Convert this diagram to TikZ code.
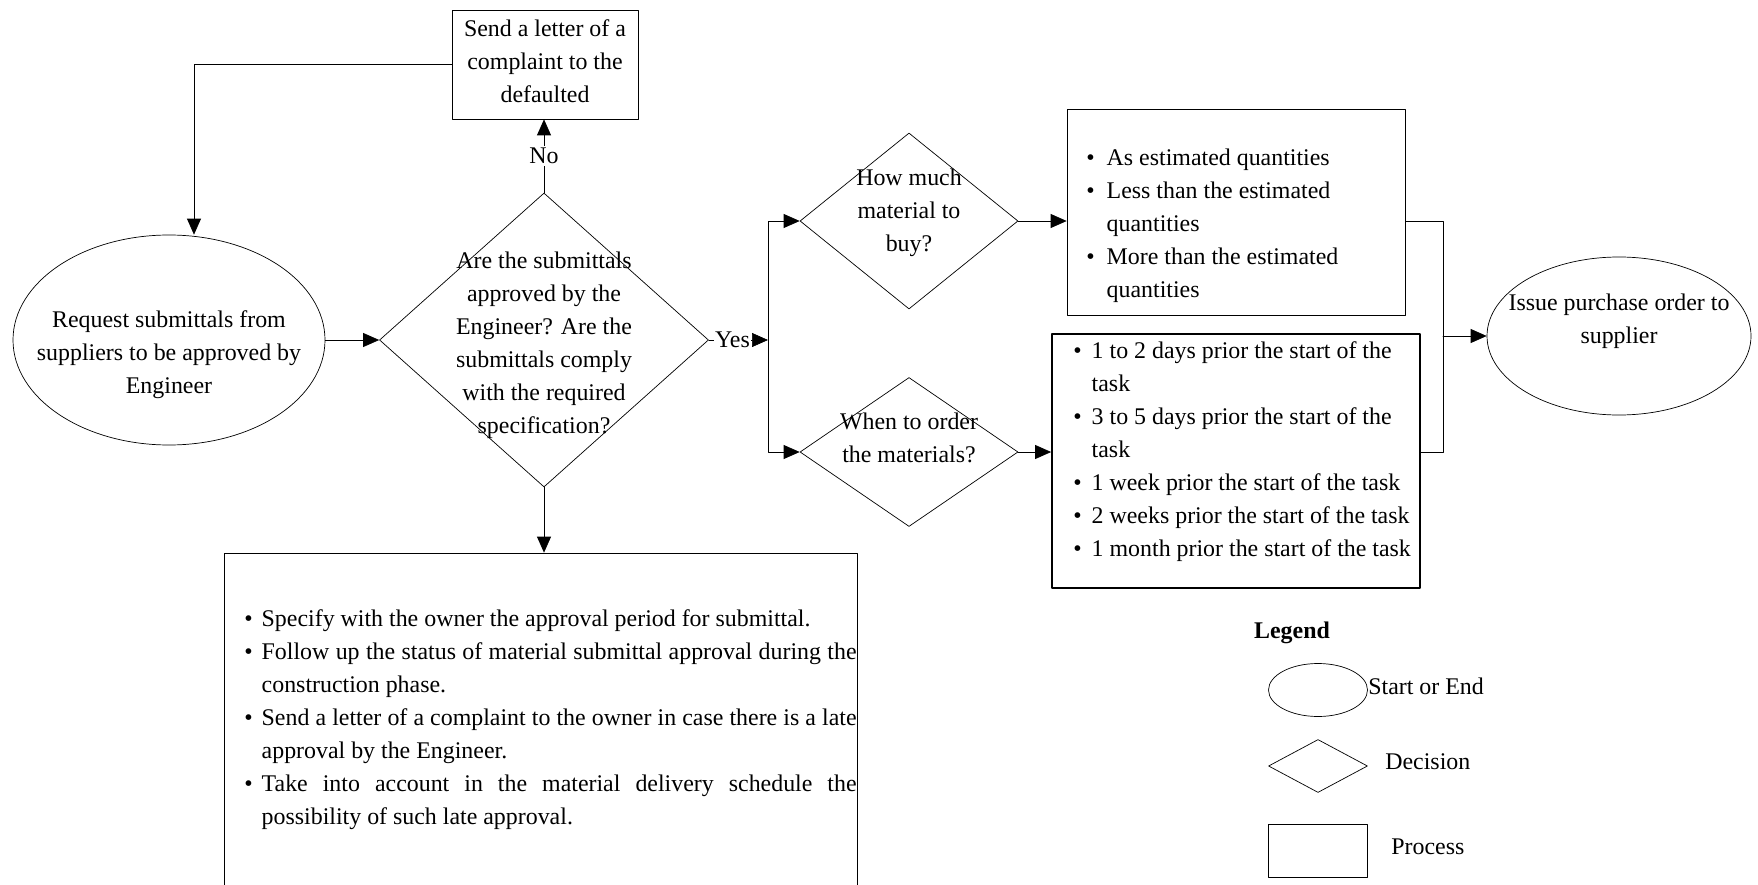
\documentclass[tikz,border=0pt]{standalone}
\usepackage{fontspec}
\setmainfont{Liberation Serif}
\usetikzlibrary{shapes.geometric,arrows.meta}
\begin{document}
\begin{tikzpicture}[x=0.02cm,y=-0.02cm,>={Triangle[length=3.2mm,width=2.8mm]},line join=round,line cap=round,font=\fontsize{13.6}{18.8}\selectfont]
	\tikzset{
		wh/.style 2 args={minimum width=#1*0.02cm,minimum height=#2*0.02cm},
		startend/.style={draw,ellipse,inner sep=0pt},
		decision/.style={draw,diamond,inner sep=0pt},
		process/.style={draw,rectangle,inner sep=0pt},
		txt/.style={align=center,inner sep=0pt},
		lbl/.style={fill=white,inner sep=1pt},
	}
	\useasboundingbox (0,0) rectangle (1758,885);
	\begin{scope}
		\clip (0,0) rectangle (1758,885);
		\node[startend,wh={312}{210}] (req) at (169,340) {};
		\node[txt] (req-t) at (169,355) {Request submittals from\\suppliers to be approved by\\Engineer};
		\node[process,wh={186}{109}] (letter) at (545,64.5) {};
		\node[txt] (letter-t) at (545,61) {Send a letter of a\\complaint to the\\defaulted};
		\node[decision,wh={329}{294}] (dec) at (544,340) {};
		\node[txt] (dec-t) at (544,345) {Are the submittals\\approved by the\\Engineer? Are the\\submittals comply\\with the required\\specification?};
		\node[decision,wh={218}{176}] (how) at (909,221) {};
		\node[txt] (how-t) at (909,213) {How much\\material to\\buy?};
		\node[decision,wh={218}{149}] (when) at (909,452) {};
		\node[txt] (when-t) at (909,438) {When to order\\the materials?};
		\node[process,wh={338}{206}] (qty) at (1236,212) {};
		\node[inner sep=0pt,anchor=west] (qty-t) at (1086,225) {\begin{tabular}{@{}l@{\hspace{0.24cm}}l@{}}
				\textbullet & As estimated quantities\\
				\textbullet & Less than the estimated\\
				& quantities\\
				\textbullet & More than the estimated\\
				& quantities
			\end{tabular}};
		\node[process,line width=1pt,wh={368}{254}] (time) at (1236,461) {};
		\node[inner sep=0pt,anchor=west] (time-t) at (1073,451) {\begin{tabular}{@{}l@{\hspace{0.2cm}}l@{}}
				\textbullet & 1 to 2 days prior the start of the\\
				& task\\
				\textbullet & 3 to 5 days prior the start of the\\
				& task\\
				\textbullet & 1 week prior the start of the task\\
				\textbullet & 2 weeks prior the start of the task\\
				\textbullet & 1 month prior the start of the task
			\end{tabular}};
		\node[startend,wh={264}{158}] (issue) at (1619,336) {};
		\node[txt] (issue-t) at (1619,321) {Issue purchase order to\\supplier};
		\node[process,wh={633}{352}] (notes) at (540.5,729) {};
		\node[inner sep=0pt,anchor=west] (notes-t) at (244,719) {\begin{tabular}{@{}l@{\hspace{0.18cm}}p{11.9cm}@{}}
				\textbullet & Specify with the owner the approval period for submittal.\\
				\textbullet & Follow up the status of material submittal approval during the\linebreak construction phase.\\
				\textbullet & Send a letter of a complaint to the owner in case there is a late\linebreak approval by the Engineer.\\
				\textbullet & Take into account in the material delivery schedule the\linebreak possibility of such late approval.
			\end{tabular}};
		\draw[->] (letter.west) -| ([xshift=0.5cm]req.north);
		\draw[->] (req.east) -- (dec.west);
		\draw[->] (dec.north) -- (dec.north |- letter.south) node[lbl,midway] (no) {No};
		\coordinate (split) at (768,340);
		\draw[->] (dec.east) -- (split) node[lbl,pos=0.4,inner sep=0.5pt] (yes) {Yes};
		\draw[->] (split) |- (how.west);
		\draw[->] (split) |- (when.west);
		\draw[->] (how.east) -- (how.east -| qty.west);
		\draw[->] (when.east) -- (when.east -| time.west);
		\coordinate (jn) at (1443,336);
		\draw (qty.east |- how.east) -| (jn) |- (time.east |- when.east);
		\draw[->] (jn) -- (issue.west);
		\draw[->] (dec.south) -- (dec.south |- notes.north);
		\node (lg) at (1292,633) {\textbf{Legend}};
		\foreach \s/\w/\y/\tx/\t/\n in {startend/0.4pt/690/1368/Start or End/a,decision/0.4pt/766/1385/Decision/b,process/1pt/851/1391/Process/c}{
			\node[\s,line width=\w,wh={99}{53}] (lg-\n) at (1318,\y) {};
			\node[anchor=west,inner sep=0pt] (lgt-\n) at (\tx,\y-4) {\t};
		}
	\end{scope}
\end{tikzpicture}
\end{document}
